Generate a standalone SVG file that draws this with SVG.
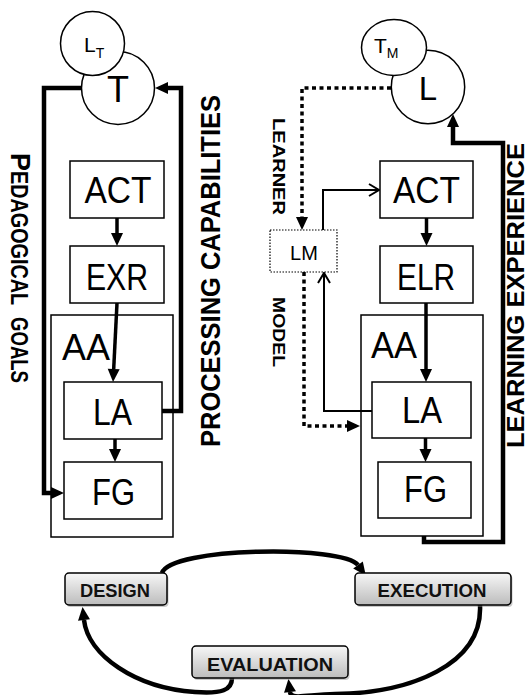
<svg xmlns="http://www.w3.org/2000/svg" width="530" height="695" viewBox="0 0 530 695">
<style>
.box{fill:#fff;stroke:#000;stroke-width:1.5}
.big{font-family:"Liberation Sans",Arial,sans-serif;font-size:36px;text-anchor:middle;fill:#000}
.aa{font-family:"Liberation Sans",Arial,sans-serif;font-size:36px;fill:#000}
.lbl{font-family:"Liberation Sans",Arial,sans-serif;font-weight:bold;fill:#000}
.thick{fill:none;stroke:#000;stroke-width:4.5}
.mid{fill:none;stroke:#000;stroke-width:3.5}
.thin{fill:none;stroke:#000;stroke-width:2}
.dot{fill:none;stroke:#000;stroke-width:3.5;stroke-dasharray:4 3.5}
.circ{fill:#fff;stroke:#000;stroke-width:1.5}
.pill{stroke:#000;stroke-width:1.5;fill:url(#g)}
.shadow{fill:#888;opacity:0.45}
.ptxt{font-family:"Liberation Sans",Arial,sans-serif;font-weight:bold;font-size:18px;text-anchor:middle;fill:#111}
</style>
<defs>
<linearGradient id="g" x1="0" y1="0" x2="0" y2="1">
<stop offset="0" stop-color="#f7f7f7"/>
<stop offset="1" stop-color="#bcbcbc"/>
</linearGradient>
<marker id="ah" markerUnits="userSpaceOnUse" markerWidth="14" markerHeight="12" refX="0" refY="6" orient="auto" overflow="visible">
<path d="M0,0 L13,6 L0,12 z" fill="#000"/>
</marker>
<marker id="ch" markerUnits="userSpaceOnUse" markerWidth="12" markerHeight="14" refX="10" refY="6" orient="auto" overflow="visible">
<path d="M0,0 L10,6 L0,12" fill="none" stroke="#000" stroke-width="2"/>
</marker>
</defs>

<g id="connectors">
<path class="thick" d="M82,88 H44 V493 H51" marker-end="url(#ah)"/>
<path class="thick" d="M162,411 H181 V88 H168" marker-end="url(#ah)"/>
<path class="mid" d="M117,218 V233" marker-end="url(#ah)"/>
<path class="mid" d="M117,303 L113.7,369" marker-end="url(#ah)"/>
<path class="mid" d="M115,439 V449" marker-end="url(#ah)"/>

<path class="dot" d="M391,88 H302 V217" marker-end="url(#ah)"/>
<path class="thin" d="M323,230 V190 H379" marker-end="url(#ch)"/>
<path class="thin" d="M372,411 H324 V273" marker-end="url(#ch)"/>
<path class="dot" d="M304,272 V426 H347" marker-end="url(#ah)"/>
<path class="mid" d="M426.5,218 V233" marker-end="url(#ah)"/>
<path class="mid" d="M426,303 V369" marker-end="url(#ah)"/>
<path class="mid" d="M425.5,438 V449" marker-end="url(#ah)"/>
<path class="thick" d="M424,536 V542 H503 V143 H453 V127" marker-end="url(#ah)"/>

<path class="thick" stroke-width="4" d="M162,573 C170,547 343,545 358,565" marker-end="url(#ah)"/>
<path class="thick" stroke-width="4" d="M480,605 C483,665 410,693 335,694 C305,695 291,700 290,692" marker-end="url(#ah)"/>
<path class="thick" stroke-width="4" d="M232,678 C232,690 222,694 195,692 C135,688 88,655 84,620" marker-end="url(#ah)"/>
</g>

<g id="T">
<circle class="circ" cx="118" cy="88" r="36.5"/>
<text class="big" x="118" y="102">T</text>
</g>
<g id="LT">
<circle class="circ" cx="92.5" cy="43.5" r="32"/>
<text class="lbl" style="font-weight:normal;font-size:21px" x="84" y="52">L<tspan style="font-size:14px" dy="6">T</tspan></text>
</g>
<g id="L">
<circle class="circ" cx="428" cy="87" r="36.7"/>
<text class="big" x="428" y="100" style="font-size:33px">L</text>
</g>
<g id="TM">
<ellipse class="circ" cx="394" cy="47.5" rx="32.5" ry="28"/>
<text class="lbl" style="font-weight:normal;font-size:21px" x="374" y="53">T<tspan style="font-size:14px" dy="5">M</tspan></text>
</g>

<g id="ACT-left"><rect class="box" x="70" y="161" width="94" height="57"/><text class="big" x="118" y="203" textLength="67" lengthAdjust="spacingAndGlyphs">ACT</text></g>
<g id="EXR"><rect class="box" x="70" y="246" width="94" height="57"/><text class="big" x="117" y="290" textLength="62" lengthAdjust="spacingAndGlyphs">EXR</text></g>
<g id="AA-left"><rect class="box" x="51" y="315" width="122" height="222" style="fill:none"/><text class="aa" x="62" y="360" textLength="48" lengthAdjust="spacingAndGlyphs">AA</text></g>
<g id="LA-left"><rect class="box" x="64" y="382" width="98" height="57"/><text class="big" x="112.5" y="425" textLength="39" lengthAdjust="spacingAndGlyphs">LA</text></g>
<g id="FG-left"><rect class="box" x="64" y="462" width="98" height="57"/><text class="big" x="113.5" y="505" textLength="43" lengthAdjust="spacingAndGlyphs">FG</text></g>

<g id="ACT-right"><rect class="box" x="380" y="161" width="93" height="57"/><text class="big" x="426.5" y="203" textLength="67" lengthAdjust="spacingAndGlyphs">ACT</text></g>
<g id="ELR"><rect class="box" x="380" y="246" width="93" height="57"/><text class="big" x="426" y="290" textLength="58" lengthAdjust="spacingAndGlyphs">ELR</text></g>
<g id="AA-right"><rect class="box" x="361" y="315" width="122" height="221" style="fill:none"/><text class="aa" x="371" y="358" textLength="46" lengthAdjust="spacingAndGlyphs">AA</text></g>
<g id="LA-right"><rect class="box" x="372" y="382" width="99" height="56"/><text class="big" x="422" y="423" textLength="40" lengthAdjust="spacingAndGlyphs">LA</text></g>
<g id="FG-right"><rect class="box" x="378" y="462" width="93" height="56"/><text class="big" x="425.5" y="502" textLength="43" lengthAdjust="spacingAndGlyphs">FG</text></g>
<g id="LM"><rect x="270" y="230" width="67" height="42" fill="#fff" stroke="#000" stroke-width="1.2" stroke-dasharray="1.5 1.5"/><text class="big" x="304" y="260" style="font-size:20px">LM</text></g>

<g id="labels">
<text class="lbl" transform="translate(11,153) rotate(90)" style="font-size:23px"><tspan style="font-size:27px">P</tspan><tspan textLength="134" lengthAdjust="spacingAndGlyphs">EDAGOGICAL</tspan><tspan x="164" textLength="66" lengthAdjust="spacingAndGlyphs">GOALS</tspan></text>
<text class="lbl" transform="translate(220,447) rotate(-90)" style="font-size:27px" textLength="352" lengthAdjust="spacingAndGlyphs">PROCESSING CAPABILITIES</text>
<text class="lbl" transform="translate(524,448) rotate(-90)" style="font-size:24px" textLength="305" lengthAdjust="spacingAndGlyphs">LEARNING EXPERIENCE</text>
<text class="lbl" transform="translate(273,118) rotate(90)" style="font-size:17px" textLength="97" lengthAdjust="spacingAndGlyphs">LEARNER</text>
<text class="lbl" transform="translate(273,297) rotate(90)" style="font-size:17px" textLength="70" lengthAdjust="spacingAndGlyphs">MODEL</text>
</g>

<g id="DESIGN"><rect class="shadow" x="66.5" y="575" width="102" height="32" rx="4"/><rect class="pill" x="65" y="573" width="102" height="32" rx="4"/><text class="ptxt" x="115" y="597" textLength="70" lengthAdjust="spacingAndGlyphs">DESIGN</text></g>
<g id="EXECUTION"><rect class="shadow" x="356.5" y="575" width="156" height="32" rx="4"/><rect class="pill" x="355" y="573" width="156" height="32" rx="4"/><text class="ptxt" x="432" y="597" textLength="109" lengthAdjust="spacingAndGlyphs">EXECUTION</text></g>
<g id="EVALUATION"><rect class="shadow" x="193.5" y="648" width="156" height="32" rx="4"/><rect class="pill" x="192" y="646" width="156" height="32" rx="4"/><text class="ptxt" x="270" y="671" textLength="126" lengthAdjust="spacingAndGlyphs">EVALUATION</text></g>
</svg>
